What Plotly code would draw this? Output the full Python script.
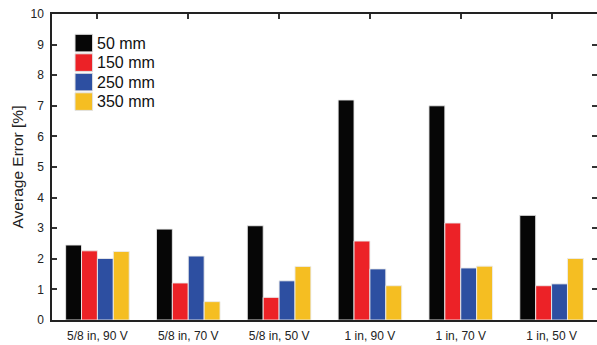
import plotly.graph_objects as go

categories = ["5/8 in, 90 V", "5/8 in, 70 V", "5/8 in, 50 V", "1 in, 90 V", "1 in, 70 V", "1 in, 50 V"]
series_names = ["50 mm", "150 mm", "250 mm", "350 mm"]
vals_50 = [2.45, 2.97, 3.08, 7.19, 7.00, 3.42]
vals_150 = [2.26, 1.21, 0.74, 2.58, 3.17, 1.12]
vals_250 = [2.01, 2.09, 1.28, 1.67, 1.70, 1.18]
vals_350 = [2.24, 0.60, 1.75, 1.12, 1.76, 2.01]
colors = ["#060606", "#ec2227", "#2d4fa1", "#f5be22"]
y_ticks = list(range(0, 11))

W, H = 597, 345
ML, MR, MT, MB = 52, 0, 14, 25
PW, PH = W - ML - MR, H - MT - MB

fig = go.Figure()
for name, vals, col in zip(series_names, [vals_50, vals_150, vals_250, vals_350], colors):
    fig.add_trace(go.Bar(
        x=categories, y=vals, name=name, showlegend=False,
        marker=dict(color=col, line=dict(color="rgba(235,235,235,0.9)", width=1)),
    ))

# custom legend with large swatches
def px2x(p):
    return (p - ML) / PW

def py2y(p):
    return (H - MB - p) / PH

shapes = []
annotations = []
sw_left, sw_size, first_top, pitch = 75, 17.6, 34.3, 19.5
for i, (name, col) in enumerate(zip(series_names, colors)):
    top = first_top + i * pitch
    shapes.append(dict(type="rect", xref="paper", yref="paper",
                       x0=px2x(sw_left), x1=px2x(sw_left + sw_size),
                       y0=py2y(top + sw_size), y1=py2y(top),
                       fillcolor=col, line=dict(color="rgba(225,225,225,1)", width=1)))
    annotations.append(dict(xref="paper", yref="paper", x=px2x(95), y=py2y(top + sw_size / 2),
                            text=name, showarrow=False, xanchor="left", yanchor="middle",
                            font=dict(size=16, color="#111111")))

axis_font = dict(family="Liberation Sans, Arial, sans-serif", size=12, color="#222222")
fig.update_layout(
    width=W, height=H,
    margin=dict(l=ML, r=MR, t=MT, b=MB, autoexpand=False),
    paper_bgcolor="white", plot_bgcolor="white",
    barmode="group", bargap=0.3, bargroupgap=0.0,
    font=dict(family="Liberation Sans, Arial, sans-serif", color="#222222"),
    shapes=shapes, annotations=annotations,
    xaxis=dict(showline=True, linecolor="#222222", linewidth=1.5, mirror="ticks",
               ticks="inside", ticklen=5, tickcolor="#333333", tickwidth=1.5,
               tickfont=axis_font, showgrid=False, layer="below traces",
               range=[-0.5, 5.5], automargin=False, ticklabelstandoff=4),
    yaxis=dict(range=[0, 10], tickvals=y_ticks, showline=True, linecolor="#222222",
               linewidth=1.5, mirror="ticks", ticks="inside", ticklen=5,
               tickcolor="#333333", tickwidth=1.5, tickfont=axis_font, showgrid=False,
               zeroline=False, ticklabelstandoff=4, automargin=False,
               title=dict(text="Average Error [%]", font=dict(size=15.5, color="#222222"), standoff=3)),
)

fig.write_html("out.html", config={"displayModeBar": False},
               post_script="document.body.style.margin='0';document.body.style.padding='0';document.body.style.overflow='hidden';")
